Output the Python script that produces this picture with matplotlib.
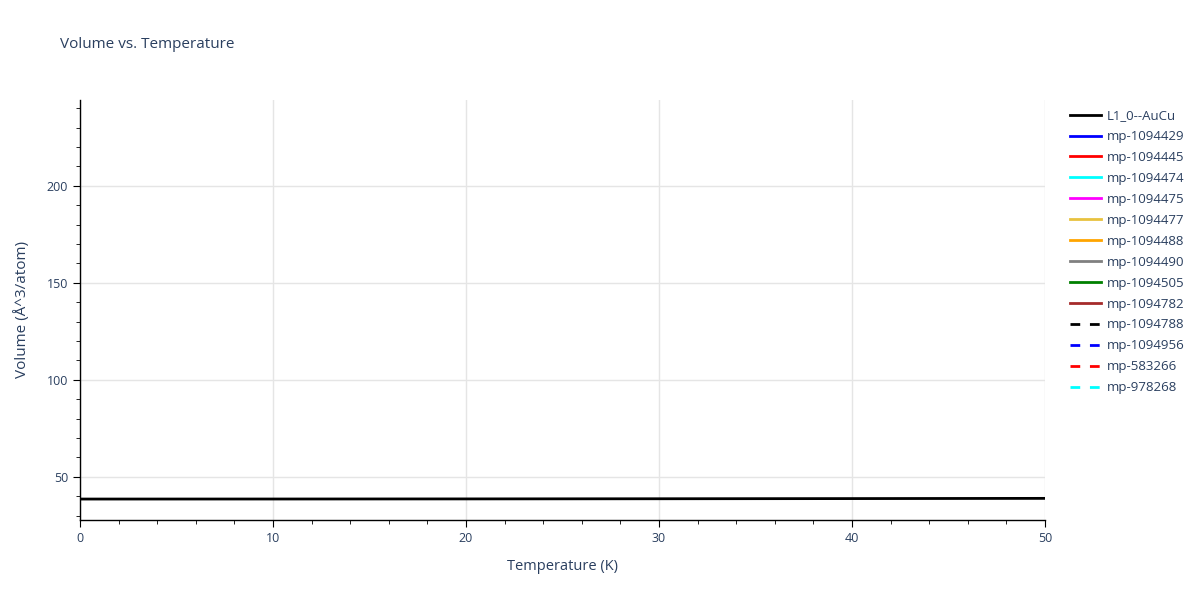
import matplotlib
matplotlib.use("Agg")
import matplotlib.pyplot as plt
from matplotlib.ticker import MultipleLocator

plt.rcParams['font.family'] = ['Open Sans', 'DejaVu Sans']

# data
temperature = [0, 10, 20, 30, 40, 50]
volume_aucu = [38.50, 38.52, 38.57, 38.65, 38.74, 38.85]

other_names = ["mp-1094429", "mp-1094445", "mp-1094474", "mp-1094475", "mp-1094477",
               "mp-1094488", "mp-1094490", "mp-1094505", "mp-1094782", "mp-1094788",
               "mp-1094956", "mp-583266", "mp-978268"]
other_colors = ["blue", "red", "cyan", "magenta", "#e8c23f", "orange", "gray", "green",
                "brown", "black", "blue", "red", "cyan"]
other_dashed = [False] * 9 + [True] * 4

TXT = "#2a3f5f"

fig = plt.figure(figsize=(12, 6), dpi=100)
ax = fig.add_axes([80 / 1200, 80 / 600, 965 / 1200, 420 / 600])

ax.plot(temperature, volume_aucu, color="black", lw=2, label="L1_0--AuCu", zorder=3)
for name, c, d in zip(other_names, other_colors, other_dashed):
    if d:
        ax.plot([], [], color=c, lw=2, dashes=(3.5, 3.5), label=name)
    else:
        ax.plot([], [], color=c, lw=2, label=name)

ax.set_xlim(0, 50)
ax.set_ylim(27.7, 244.2)
ax.xaxis.set_major_locator(MultipleLocator(10))
ax.xaxis.set_minor_locator(MultipleLocator(2))
ax.yaxis.set_major_locator(MultipleLocator(50))
ax.yaxis.set_minor_locator(MultipleLocator(10))
ax.grid(True, which="major", color="#e5e5e5", lw=1)
ax.set_axisbelow(True)
for s in ["top", "right"]:
    ax.spines[s].set_visible(False)
for s in ["left", "bottom"]:
    ax.spines[s].set_color("black")
    ax.spines[s].set_linewidth(1)
ax.tick_params(which="major", direction="out", length=5, color="black", labelcolor=TXT, labelsize=9)
ax.tick_params(which="minor", direction="out", length=3, color="black")

ax.set_xlabel("Temperature (K)", color=TXT, fontsize=10.5, labelpad=10)
ax.set_ylabel("Volume (Å^3/atom)", color=TXT, fontsize=11, labelpad=12)
fig.text(60 / 1200, 1 - 45 / 600, "Volume vs. Temperature", color=TXT, fontsize=11, va="center")

leg = ax.legend(loc="upper left", bbox_to_anchor=(1065 / 1200, 1 - 104 / 600),
                bbox_transform=fig.transFigure, frameon=False, fontsize=9.5,
                handlelength=2.3, handletextpad=0.5, labelspacing=0.6, borderaxespad=0)
for t in leg.get_texts():
    t.set_color(TXT)

fig.savefig("out.png", dpi=100)
